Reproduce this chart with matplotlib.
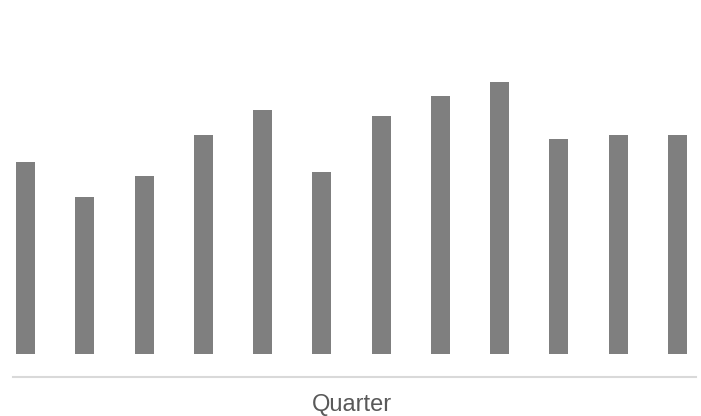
import matplotlib
matplotlib.use("Agg")
import matplotlib.pyplot as plt

quarters = ["Q1", "Q2", "Q3", "Q4", "Q5", "Q6", "Q7", "Q8", "Q9", "Q10", "Q11", "Q12"]
values = [77.0, 63.0, 71.4, 87.8, 97.8, 73.0, 95.4, 103.4, 109.0, 86.2, 87.8, 87.8]

W, H = 701, 416
fig = plt.figure(figsize=(W / 100, H / 100), dpi=100)
left, right = 13 / W, 696 / W
bottom, top = 1 - 377 / H, 1 - 20 / H
ax = fig.add_axes([left, bottom, right - left, top - bottom])

x = list(range(len(quarters)))
ax.bar(x, values, width=0.32, color="#7f7f7f")
ax.set_xlim(-0.211, 11.312)
ax.set_ylim(-9.0, 133.6)

for s in ["left", "right", "top"]:
    ax.spines[s].set_visible(False)
ax.spines["bottom"].set_color("#d9d9d9")
ax.spines["bottom"].set_linewidth(1.5)
ax.set_xticks([])
ax.set_yticks([])

fig.text(351.5 / W, 1 - 405 / H, "Quarter", ha="center", va="center",
         fontsize=17, color="#595959", family=["Liberation Sans", "DejaVu Sans"])

fig.savefig("out.png", dpi=100)
